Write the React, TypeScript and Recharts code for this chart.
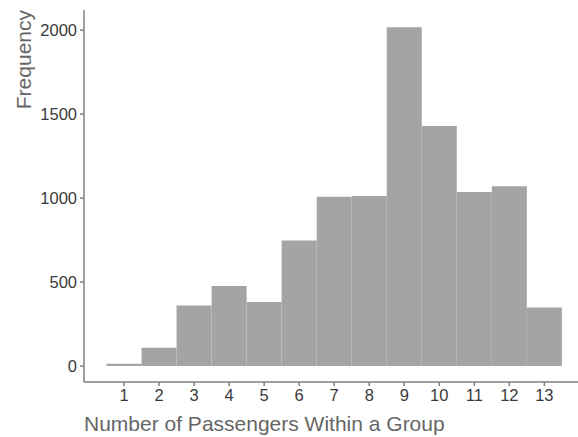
import React from "react";
import { ComposedChart, Bar, XAxis, YAxis, Label } from "recharts";

const passengers = [1, 2, 3, 4, 5, 6, 7, 8, 9, 10, 11, 12, 13];
const frequency = [14, 109, 361, 476, 381, 748, 1008, 1012, 2018, 1429, 1036, 1071, 349];
const xTicks = [1, 2, 3, 4, 5, 6, 7, 8, 9, 10, 11, 12, 13];
const yTicks = [0, 500, 1000, 1500, 2000];
const xTitle = "Number of Passengers Within a Group";
const yTitle = "Frequency";

const data = passengers.map((p, i) => ({ passengers: p, frequency: frequency[i] }));

const FONT = "'Liberation Sans', Arial, sans-serif";

export default function App() {
  return (
    <div style={{ position: "absolute", left: 0, top: 0 }}>
      <ComposedChart
        width={578}
        height={437}
        data={data}
        margin={{ top: 10, right: 0, bottom: 0, left: 0 }}
        barCategoryGap={0}
        barGap={0}
      >
        <XAxis
          type="number"
          dataKey="passengers"
          domain={[-0.143, 13.96]}
          ticks={xTicks}
          allowDataOverflow
          height={55}
          stroke="#7f7f7f"
          strokeWidth={1.5}
          tickSize={4}
          tickMargin={3}
          tick={{ fill: "#3a3a3a", fontSize: 16.5, fontFamily: FONT }}
          interval={0}
        >
          <Label
            content={() => (
              <text
                x={84}
                y={423}
                textAnchor="start"
                dominantBaseline="central"
                fill="#666666"
                fontSize={21}
                fontFamily={FONT}
              >
                {xTitle}
              </text>
            )}
          />
        </XAxis>
        <YAxis
          type="number"
          domain={[-95, 2120]}
          ticks={yTicks}
          allowDataOverflow
          width={84}
          stroke="#7f7f7f"
          strokeWidth={1.5}
          tickSize={4}
          tickMargin={3}
          tick={{ fill: "#3a3a3a", fontSize: 16.5, fontFamily: FONT }}
        >
          <Label
            content={() => (
              <text
                x={23}
                y={10}
                transform="rotate(-90, 23, 10)"
                textAnchor="end"
                dominantBaseline="central"
                fill="#666666"
                fontSize={21}
                fontFamily={FONT}
              >
                {yTitle}
              </text>
            )}
          />
        </YAxis>
        <Bar dataKey="frequency" fill="#a4a4a4" isAnimationActive={false} />
      </ComposedChart>
    </div>
  );
}
